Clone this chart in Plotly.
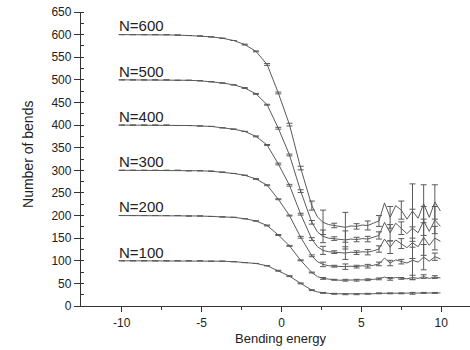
import plotly.graph_objects as go

# ---- data ----
x_energy = [-10.0, -9.3, -8.6, -7.9, -7.2, -6.5, -5.8, -5.1, -4.4, -3.7, -3.0, -2.3, -1.6, -0.9,
            -0.2, 0.5, 1.2, 1.9, 2.25, 2.6, 2.95, 3.3, 3.65, 4.0, 4.35, 4.7, 5.05, 5.4, 5.75, 6.1,
            6.45, 6.8, 7.15, 7.5, 7.85, 8.2, 8.55, 8.9, 9.25, 9.6, 9.95]

series_labels = ["N=100", "N=200", "N=300", "N=400", "N=500", "N=600"]
series_n = [100, 200, 300, 400, 500, 600]

bends_n100 = [100, 100, 100, 100, 100, 100, 100, 100, 99, 99, 98, 96, 94, 89, 78, 66, 50, 35, 31, 29,
              28, 27, 27, 26, 27, 26, 27, 27, 27, 28, 28, 28, 29, 28, 29, 28, 29, 29, 28, 29, 29]
bends_n200 = [200, 200, 200, 200, 200, 200, 199, 199, 198, 197, 196, 193, 188, 178, 157, 133, 101, 74, 65, 61,
              59, 58, 57, 57, 58, 57, 58, 58, 59, 60, 64, 60, 63, 61, 60, 63, 61, 65, 61, 64, 62]
bends_n300 = [300, 300, 300, 300, 300, 300, 299, 299, 298, 296, 293, 289, 281, 267, 236, 200, 152, 111, 98, 92,
              89, 88, 87, 87, 88, 87, 89, 88, 90, 93, 106, 95, 102, 98, 95, 101, 97, 108, 99, 109, 104]
bends_n400 = [400, 400, 400, 400, 400, 399, 399, 398, 397, 394, 391, 386, 375, 356, 314, 267, 203, 148, 131, 123,
              120, 119, 118, 117, 119, 118, 120, 119, 122, 126, 148, 130, 146, 138, 129, 140, 131, 152, 134, 150, 143]
bends_n500 = [500, 500, 500, 500, 500, 499, 499, 498, 496, 493, 489, 482, 469, 445, 393, 334, 254, 185, 164, 154,
              150, 149, 147, 146, 148, 147, 149, 148, 152, 156, 185, 162, 183, 172, 160, 172, 162, 188, 165, 190, 176]
bends_n600 = [600, 600, 600, 600, 600, 599, 598, 597, 595, 592, 587, 578, 563, 534, 471, 401, 305, 222, 197, 185,
              180, 178, 176, 174, 177, 176, 179, 178, 183, 188, 228, 196, 222, 212, 192, 210, 194, 226, 196, 230, 210]

# points that carry error bars
err_x = [-10.0, -9.3, -8.6, -7.9, -7.2, -6.5, -5.8, -5.1, -4.4, -3.7, -3.0, -2.3, -1.6, -0.9,
         -0.2, 0.5, 1.2, 1.9, 2.6, 3.3, 4.0, 4.7, 5.4, 6.1, 6.8, 7.5, 8.2, 8.9, 9.6]
err_n100 = [0, 0, 0, 0, 0, 0, 0, 0, 0, 0, 0, 0, 0, 0, 1, 1, 1, 1, 1, 1, 1, 1, 1, 1, 1, 1, 2, 1, 1]
err_n200 = [0, 0, 0, 0, 0, 0, 0, 0, 0, 0, 0, 0, 0, 1, 1, 1, 1, 1, 2, 1, 2, 2, 2, 2, 3, 2, 5, 4, 3]
err_n300 = [0, 0, 0, 0, 0, 0, 0, 0, 0, 0, 0, 0, 1, 1, 1, 1, 2, 2, 5, 2, 6, 3, 4, 4, 6, 5, 42, 28, 8]
err_n400 = [0, 0, 0, 0, 0, 0, 0, 0, 0, 0, 0, 0, 1, 1, 2, 2, 2, 3, 9, 3, 14, 4, 6, 7, 14, 11, 35, 40, 26]
err_n500 = [0, 0, 0, 0, 0, 0, 0, 0, 0, 0, 0, 1, 1, 1, 2, 2, 3, 4, 14, 4, 20, 5, 6, 8, 18, 14, 42, 32, 30]
err_n600 = [0, 0, 0, 0, 0, 0, 0, 0, 0, 0, 0, 1, 1, 2, 2, 3, 4, 10, 27, 5, 33, 6, 10, 12, 24, 20, 60, 42, 38]

x_tickvals = [-10, -5, 0, 5, 10]
x_ticktext = ["-10", "-5", "0", "5", "10"]
x_minor_tickvals = [-7.5, -2.5, 2.5, 7.5]
x_title = "Bending energy"
y_title = "Number of bends"

# ---- figure ----
all_bends = [bends_n100, bends_n200, bends_n300, bends_n400, bends_n500, bends_n600]
all_err = [err_n100, err_n200, err_n300, err_n400, err_n500, err_n600]

LINE = "#5a5a5a"
FONT = "Liberation Sans, Arial, sans-serif"
fig = go.Figure()
err_idx = [x_energy.index(v) for v in err_x]
for bends, errs in zip(all_bends, all_err):
    fig.add_trace(go.Scatter(x=x_energy, y=bends, mode="lines",
                             line=dict(color=LINE, width=1), hoverinfo="skip"))
    fig.add_trace(go.Scatter(x=err_x, y=[bends[i] for i in err_idx], mode="markers",
                             marker=dict(size=1, opacity=0, color=LINE),
                             error_y=dict(type="data", array=errs, visible=True,
                                          color=LINE, thickness=1, width=3),
                             hoverinfo="skip"))

for lab, n in zip(series_labels, series_n):
    fig.add_annotation(x=-10.3, y=n - 4, xref="x", yref="y", text=lab, showarrow=False,
                       xanchor="left", yanchor="bottom",
                       font=dict(family=FONT, size=15, color="#222"))

fig.add_annotation(x=0, y=-0.112, xref="x", yref="paper", text=x_title, showarrow=False,
                   xanchor="center", yanchor="middle",
                   font=dict(family=FONT, size=13, color="#222"))
fig.add_annotation(x=-0.136, y=0.514, xref="paper", yref="paper", text=y_title, showarrow=False,
                   textangle=-90, xanchor="center", yanchor="middle",
                   font=dict(family=FONT, size=14, color="#222"))

fig.update_layout(
    width=470, height=350,
    margin=dict(l=81, r=0, t=12, b=44),
    paper_bgcolor="white", plot_bgcolor="white", showlegend=False,
    font=dict(family=FONT, size=12, color="#222"),
)
fig.update_xaxes(range=[-12.55, 11.8], tickvals=x_tickvals, ticktext=x_ticktext,
                 ticks="outside", ticklen=5,
                 tickwidth=1, tickcolor="#333", showline=True, linecolor="#333", linewidth=1.3,
                 showgrid=False, zeroline=False,
                 minor=dict(tickvals=x_minor_tickvals, ticks="outside", ticklen=3,
                            tickcolor="#333", showgrid=False))
fig.update_yaxes(range=[0, 650], tick0=0, dtick=50, ticks="outside", ticklen=6,
                 tickwidth=1, tickcolor="#333", showline=True, linecolor="#333", linewidth=1.3,
                 showgrid=False, zeroline=False,
                 minor=dict(dtick=25, ticks="inside", ticklen=3, tickcolor="#333", showgrid=False))

fig.write_html("out.html")
